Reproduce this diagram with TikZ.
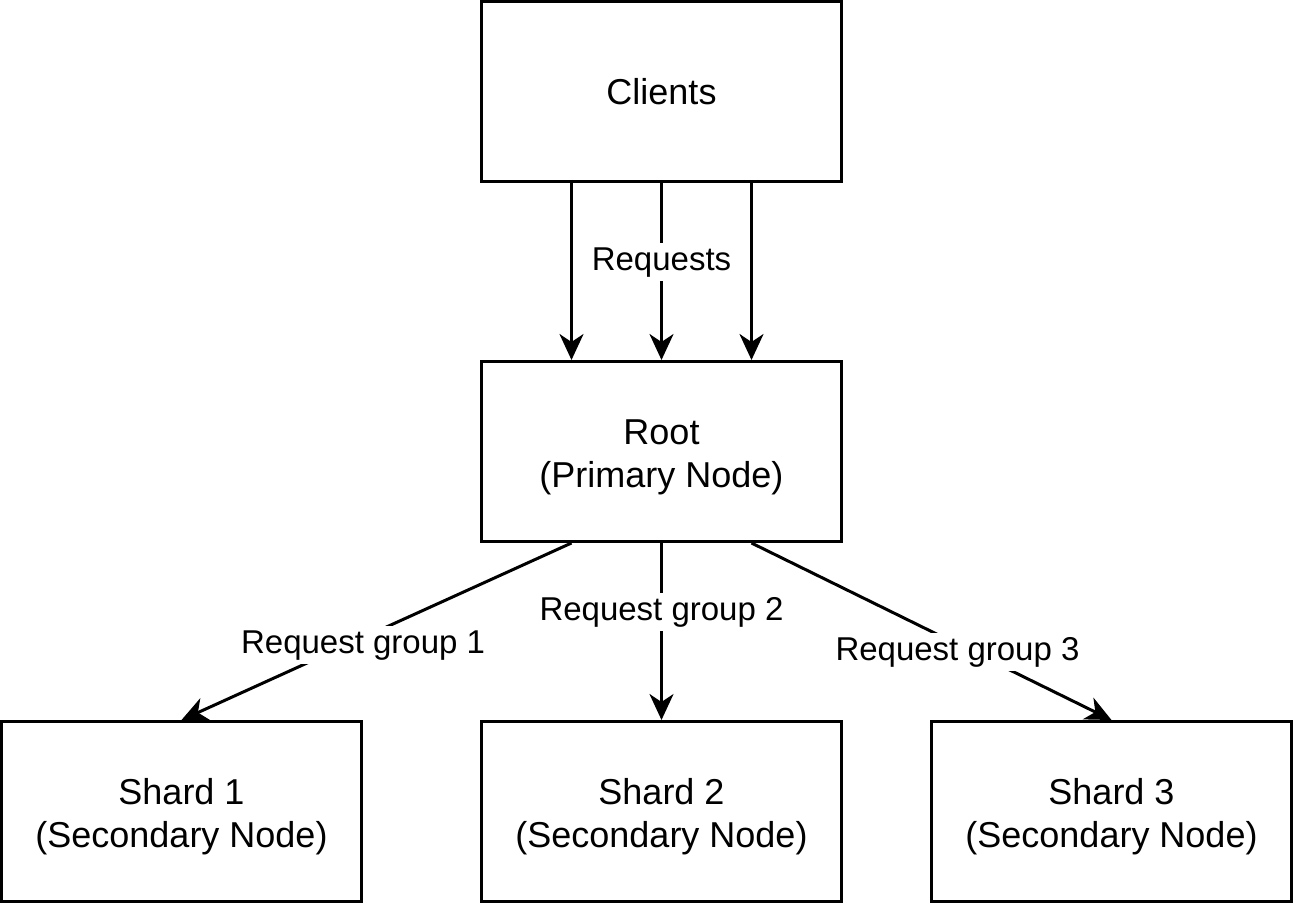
\documentclass[tikz,border=0pt]{standalone}
\usepackage{fontspec}
\setmainfont{Liberation Sans}
\usetikzlibrary{arrows.meta}

\begin{document}
\begin{tikzpicture}[x=1pt, y=1pt,
    box/.style={draw, line width=3pt, minimum width=360pt, minimum height=180pt, align=center, font=\fontsize{36}{43}\selectfont},
    twoline/.style={box, text height=79pt, text depth=8pt},
    flow/.style={line width=3pt, -{Stealth[length=26pt, width=24pt, inset=8pt]}},
    lbl/.style={fill=white, inner sep=4pt, yshift=-3pt, font=\fontsize{33}{40}\selectfont}]
    \useasboundingbox (0,0) rectangle (1296,-903);

    % Boxes
    \node[box] (clients) at (661.5,-91.5) {Clients};
    \node[twoline] (root) at (661.5,-451.5) {Root\\(Primary Node)};
    \node[twoline] (shard1) at (181.5,-811.5) {Shard 1\\(Secondary Node)};
    \node[twoline] (shard2) at (661.5,-811.5) {Shard 2\\(Secondary Node)};
    \node[twoline] (shard3) at (1111.5,-811.5) {Shard 3\\(Secondary Node)};

    % Requests from the clients
    \draw[flow] ([xshift=-90pt]clients.south) -- ([xshift=-90pt]root.north);
    \draw[flow] (clients.south) -- node[lbl, pos=0.43] {Requests} (root.north);
    \draw[flow] ([xshift=90pt]clients.south) -- ([xshift=90pt]root.north);

    % Request groups to the shards
    \draw[flow] ([xshift=-90pt]root.south) -- node[lbl, pos=0.56, xshift=10pt] {Request group 1} (shard1.north);
    \draw[flow] (root.south) -- node[lbl, pos=0.375] {Request group 2} (shard2.north);
    \draw[flow] ([xshift=90pt]root.south) -- node[lbl, pos=0.6, xshift=-10pt] {Request group 3} (shard3.north);
\end{tikzpicture}
\end{document}
